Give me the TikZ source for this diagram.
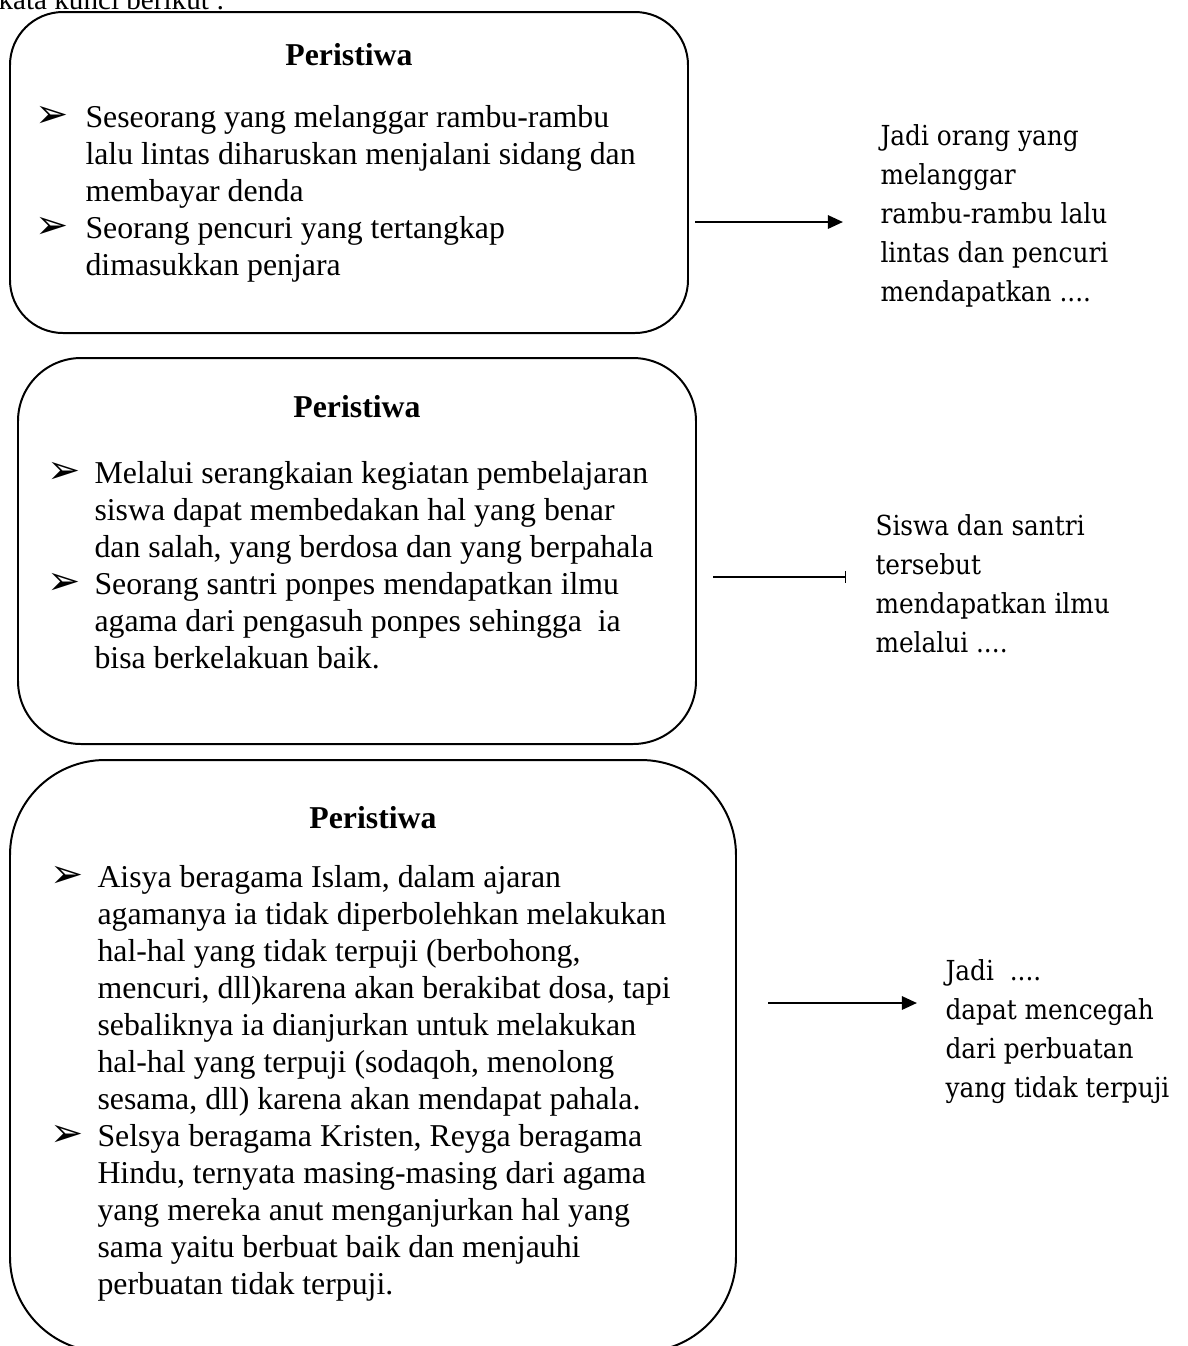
\documentclass[tikz,border=0pt]{standalone}
\usepackage{fontspec}
\setmainfont{Liberation Serif}
\newfontfamily\rfont{DejaVu Serif Condensed}
\newfontfamily\dvs{DejaVu Sans}
\usetikzlibrary{arrows.meta}
\newcommand\lefttxt{\fontsize{12}{13.96}\selectfont}
\newcommand\righttxt{\rfont\fontsize{10.4}{14.7}\selectfont}
\begin{document}
\begin{tikzpicture}[x=0.3774pt, y=-0.3774pt,
  box/.style={draw, line width=0.75pt, inner sep=0pt, outer sep=0pt},
  head/.style={font=\lefttxt\bfseries, anchor=base, inner sep=0pt},
  bul/.style={font=\dvs\fontsize{15}{16}\selectfont, anchor=base west, inner sep=0pt},
  ltext/.style={font=\lefttxt, anchor=north west, inner sep=0pt, align=left, yshift=9.772pt},
  rtext/.style={font=\righttxt, anchor=north west, inner sep=0pt, align=left, yshift=10.29pt},
  conn/.style={line width=0.9pt, -{Triangle[length=5.7pt,width=5pt]}},
  barconn/.style={line width=0.9pt, -{Bar[width=4.7pt,line width=0.5pt]}}]
\useasboundingbox (0,0) rectangle (1187,1346);
\clip (0,0) rectangle (1187,1346);

% cut-off line above
\node[font=\fontsize{11}{12}\selectfont, anchor=base west, inner sep=0pt] (intro) at (-2,9) {kata kunci berikut :};

% boxes
\node[box, rounded corners=20pt, minimum width={678*0.3774pt}, minimum height={321*0.3774pt}] (b1) at (349,172.5) {};
\node[box, rounded corners=23.8pt, minimum width={678*0.3774pt}, minimum height={386*0.3774pt}] (b2) at (357,551) {};
\node[box, rounded corners=35.9pt, minimum width={726*0.3774pt}, minimum height={592*0.3774pt}] (b3) at (373,1056) {};

% box 1
\node[head] (h1) at (349,65) {Peristiwa};
\node[bul] (p11) at (35,127) {➢};
\node[ltext] (t11) at (85,127) {\strut Seseorang yang melanggar rambu-rambu\\lalu lintas diharuskan menjalani sidang dan\\membayar denda};
\node[bul] (p12) at (35,238) {➢};
\node[ltext] (t12) at (85,238) {\strut Seorang pencuri yang tertangkap\\dimasukkan penjara};

% box 2
\node[head] (h2) at (357,417) {Peristiwa};
\node[bul] (p21) at (47,483) {➢};
\node[ltext] (t21) at (94,483) {\strut Melalui serangkaian kegiatan pembelajaran\\siswa dapat membedakan hal yang benar\\dan salah, yang berdosa dan yang berpahala};
\node[bul] (p22) at (47,594) {➢};
\node[ltext] (t22) at (94,594) {\strut Seorang santri ponpes mendapatkan ilmu\\agama dari pengasuh ponpes sehingga\ \ ia\\bisa berkelakuan baik.};

% box 3
\node[head] (h3) at (373,828) {Peristiwa};
\node[bul] (p31) at (50,887) {➢};
\node[ltext] (t31) at (97,887) {\strut Aisya beragama Islam, dalam ajaran\\agamanya ia tidak diperbolehkan melakukan\\hal-hal yang tidak terpuji (berbohong,\\mencuri, dll)karena akan berakibat dosa, tapi\\sebaliknya ia dianjurkan untuk melakukan\\hal-hal yang terpuji (sodaqoh, menolong\\sesama, dll) karena akan mendapat pahala.};
\node[bul] (p32) at (50,1146) {➢};
\node[ltext] (t32) at (97,1146) {\strut Selsya beragama Kristen, Reyga beragama\\Hindu, ternyata masing-masing dari agama\\yang mereka anut menganjurkan hal yang\\sama yaitu berbuat baik dan menjauhi\\perbuatan tidak terpuji.};

% right texts
\node[rtext] (r1) at (880,145) {\strut Jadi orang yang\\melanggar\\rambu-rambu lalu\\lintas dan pencuri\\mendapatkan ....};
\node[rtext] (r2) at (875,535) {\strut Siswa dan santri\\tersebut\\mendapatkan ilmu\\melalui ....};
\node[rtext] (r3) at (945,980) {\strut Jadi\ \ ....\\dapat mencegah\\dari perbuatan\\yang tidak terpuji};

% connectors
\coordinate (a1s) at (695,222);
\coordinate (a1e) at (843,222);
\draw[conn] (a1s) -- (a1e);
\coordinate (a2s) at (713,577);
\coordinate (a2e) at (846,577);
\draw[barconn] (a2s) -- (a2e);
\coordinate (a3s) at (768,1003);
\coordinate (a3e) at (917,1003);
\draw[conn] (a3s) -- (a3e);
\end{tikzpicture}
\end{document}
